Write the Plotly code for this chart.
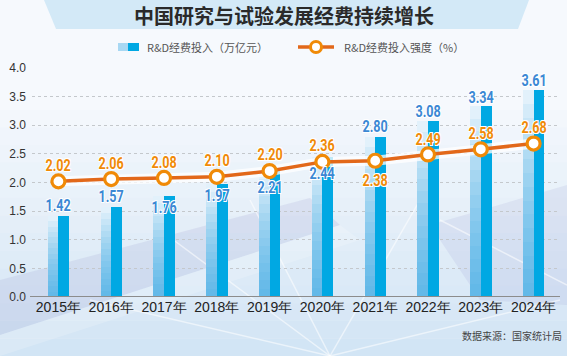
import plotly.graph_objects as go

# ---------------- data ----------------
years = ["2015年", "2016年", "2017年", "2018年", "2019年",
         "2020年", "2021年", "2022年", "2023年", "2024年"]
rd_spending = [1.42, 1.57, 1.76, 1.97, 2.21, 2.44, 2.80, 3.08, 3.34, 3.61]      # 万亿元
rd_intensity = [2.02, 2.06, 2.08, 2.10, 2.20, 2.36, 2.38, 2.49, 2.58, 2.68]     # %
y_ticks = [0.0, 0.5, 1.0, 1.5, 2.0, 2.5, 3.0, 3.5, 4.0]

title_text = "中国研究与试验发展经费持续增长"
legend_bar = "R&D经费投入（万亿元）"
legend_line = "R&D经费投入强度（%）"
source_text = "数据来源：国家统计局"

# label placement (style): pixel shift of value labels
bar_label_shift = [11, 11, -11, -11, -17, -16, 11, 10, 9, 10]
line_label_shift = [16, 16, 16, 17, 17, 17, -19, 15, 16, 17]

# ---------------- layout geometry ----------------
W, H = 567, 356
ML, MR, MT, MB = 32, 7, 68, 59
PW, PH = W - ML - MR, H - MT - MB


def px(x):
    return (x - ML) / PW


def py(y):
    return (H - MB - y) / PH


BLUE = "#00a8e3"
ORANGE_LINE = "#e2681a"
ORANGE = "#f08a07"
LABEL_BLUE = "#3b88d4"
NUM_FONT = "Roboto, DejaVu Sans, sans-serif"
CJK_FONT = "Noto Sans CJK SC, Noto Sans, sans-serif"
OUTLINE = "-1px -1px 0 #fff, 1px -1px 0 #fff, -1px 1px 0 #fff, 1px 1px 0 #fff"

fig = go.Figure()

# left (light, gradient-like) half of each bar
fig.add_trace(go.Bar(x=years, y=rd_spending, width=0.2, offset=-0.2,
                     marker=dict(color="#e2f1fb", line=dict(width=0)),
                     hoverinfo="skip", showlegend=False))
N = 14
for k in range(1, N + 1):
    fig.add_trace(go.Bar(x=years, y=[v * k / (N + 1) for v in rd_spending],
                         width=0.2, offset=-0.2,
                         marker=dict(color="rgba(40,160,225,0.075)", line=dict(width=0)),
                         hoverinfo="skip", showlegend=False))
# right (solid) half
fig.add_trace(go.Bar(x=years, y=rd_spending, width=0.205, offset=0,
                     marker=dict(color=BLUE, line=dict(width=0)),
                     name=legend_bar, showlegend=False))

# line glow
fig.add_trace(go.Scatter(x=years, y=rd_intensity, mode="lines",
                         line=dict(color="rgba(255,255,255,0.75)", width=10),
                         hoverinfo="skip", showlegend=False))
fig.add_trace(go.Scatter(x=years, y=rd_intensity, mode="lines+markers",
                         line=dict(color=ORANGE_LINE, width=3.5),
                         marker=dict(size=13, color="white",
                                     line=dict(color=ORANGE, width=3.2)),
                         name=legend_line, showlegend=False))

ann = []
for i, (x, v) in enumerate(zip(years, rd_spending)):
    ann.append(dict(x=x, y=v, xref="x", yref="y", text=f"{v:.2f}",
                    showarrow=False, yshift=bar_label_shift[i], xshift=0,
                    font=dict(family=NUM_FONT, size=17, color=LABEL_BLUE, weight="bold",
                              shadow=OUTLINE)))
for i, (x, v) in enumerate(zip(years, rd_intensity)):
    ann.append(dict(x=x, y=v, xref="x", yref="y", text=f"{v:.2f}",
                    showarrow=False, yshift=line_label_shift[i],
                    font=dict(family=NUM_FONT, size=17, color=ORANGE, weight="bold",
                              shadow=OUTLINE)))

# title
ann.append(dict(x=0.5, y=1, xref="paper", yref="paper", xanchor="center", yanchor="middle",
                yshift=(MT - 15), xshift=(W / 2 - (ML + PW / 2)),
                text=f"<b>{title_text}</b>", showarrow=False,
                font=dict(family=CJK_FONT, size=20, color="#2a2a2a")))
# legend texts
ann.append(dict(x=px(145), y=py(47), xref="paper", yref="paper", xanchor="left",
                yanchor="middle", text=legend_bar, showarrow=False,
                font=dict(family=CJK_FONT, size=11, color="#555555")))
ann.append(dict(x=px(342), y=py(47), xref="paper", yref="paper", xanchor="left",
                yanchor="middle", text=legend_line, showarrow=False,
                font=dict(family=CJK_FONT, size=11, color="#555555")))
# source
ann.append(dict(x=px(564), y=py(335), xref="paper", yref="paper", xanchor="right",
                yanchor="middle", text=source_text, showarrow=False,
                font=dict(family=CJK_FONT, size=10, color="#444444")))

shapes = []
# background vertical gradient
steps = 14
for s in range(steps):
    y0 = 110 + s * (H - 110) / steps
    y1 = 110 + (s + 1) * (H - 110) / steps
    shapes.append(dict(type="rect", xref="paper", yref="paper", layer="below",
                       x0=px(0), x1=px(W), y0=py(y1), y1=py(y0),
                       line=dict(width=0),
                       fillcolor=f"rgba(175,208,236,{0.04 + 0.035 * s:.3f})"))


def poly(pts, color):
    d = "M " + " L ".join(f"{px(a):.4f},{py(b):.4f}" for a, b in pts) + " Z"
    return dict(type="path", path=d, xref="paper", yref="paper", layer="below",
                fillcolor=color, line=dict(width=0))


shapes.append(poly([(0, 280), (310, 198), (340, 225), (0, 335)], "rgba(140,140,200,0.16)"))
shapes.append(poly([(430, 225), (W, 185), (W, 305), (480, 300)], "rgba(140,140,200,0.13)"))
shapes.append(poly([(0, 335), (340, 225), (360, 240), (0, 356)], "rgba(255,255,255,0.18)"))
# light rays
for (a, b, c, d) in [(330, 356, 160, 230), (330, 356, 250, 200), (330, 356, 420, 200),
                     (330, 356, 560, 300), (440, 220, W, 285), (330, 356, 90, 300)]:
    shapes.append(dict(type="line", xref="paper", yref="paper", layer="below",
                       x0=px(a), y0=py(b), x1=px(c), y1=py(d),
                       line=dict(color="rgba(255,255,255,0.55)", width=1.5)))

# title banner
shapes.append(poly([(44, 0), (529, 0), (518, 29), (56, 29)], "#d3e9f7"))

# zero axis line
shapes.append(dict(type="line", xref="paper", yref="y", x0=px(30), x1=px(560), y0=0, y1=0,
                   line=dict(color="#8c8c8c", width=2)))

# legend icons
shapes.append(dict(type="rect", xref="paper", yref="paper", x0=px(118), x1=px(128),
                   y0=py(51), y1=py(43), fillcolor="#a8d8f3", line=dict(width=0)))
shapes.append(dict(type="rect", xref="paper", yref="paper", x0=px(128), x1=px(139),
                   y0=py(51), y1=py(43), fillcolor=BLUE, line=dict(width=0)))
shapes.append(dict(type="line", xref="paper", yref="paper", x0=px(298), x1=px(334),
                   y0=py(47), y1=py(47), line=dict(color=ORANGE_LINE, width=3.5)))
shapes.append(dict(type="circle", xref="paper", yref="paper", x0=px(310.5), x1=px(321.5),
                   y0=py(52.5), y1=py(41.5), fillcolor="white",
                   line=dict(color=ORANGE, width=3)))

fig.update_layout(
    width=W, height=H,
    margin=dict(l=ML, r=MR, t=MT, b=MB, pad=0),
    paper_bgcolor="#f6f9fd", plot_bgcolor="rgba(0,0,0,0)",
    barmode="overlay", bargap=0,
    showlegend=False, hovermode=False,
    annotations=ann, shapes=shapes,
    xaxis=dict(type="category", range=[-0.5, 9.5], showgrid=False, zeroline=False,
               showline=False, ticks="", tickfont=dict(family="Liberation Sans, Arial, sans-serif",
                                                       size=14, color="#222222")),
    yaxis=dict(range=[0, 4.0], tickvals=y_ticks, tickformat=".1f", showgrid=True,
               gridcolor="#c4c8cc", griddash="dot", gridwidth=1, zeroline=False,
               showline=False, ticks="", ticklabelstandoff=5,
               tickfont=dict(family="Liberation Sans, Arial, sans-serif", size=12, color="#333333")),
)

post = """
document.body.style.margin = '0';
document.body.style.overflow = 'hidden';
function squeezeLabels() {
  document.querySelectorAll('text.annotation-text').forEach(function (t) {
    var s = (t.textContent || '').trim();
    if (/^\\d\\.\\d\\d$/.test(s) && !t.getAttribute('data-sq')) {
      var w = t.getComputedTextLength();
      t.setAttribute('textLength', (w * 0.74).toFixed(1));
      t.setAttribute('lengthAdjust', 'spacingAndGlyphs');
      t.setAttribute('data-sq', '1');
    }
  });
}
squeezeLabels();
setTimeout(squeezeLabels, 50);
"""

fig.write_html("out.html", post_script=post, config={"displayModeBar": False, "staticPlot": True})
